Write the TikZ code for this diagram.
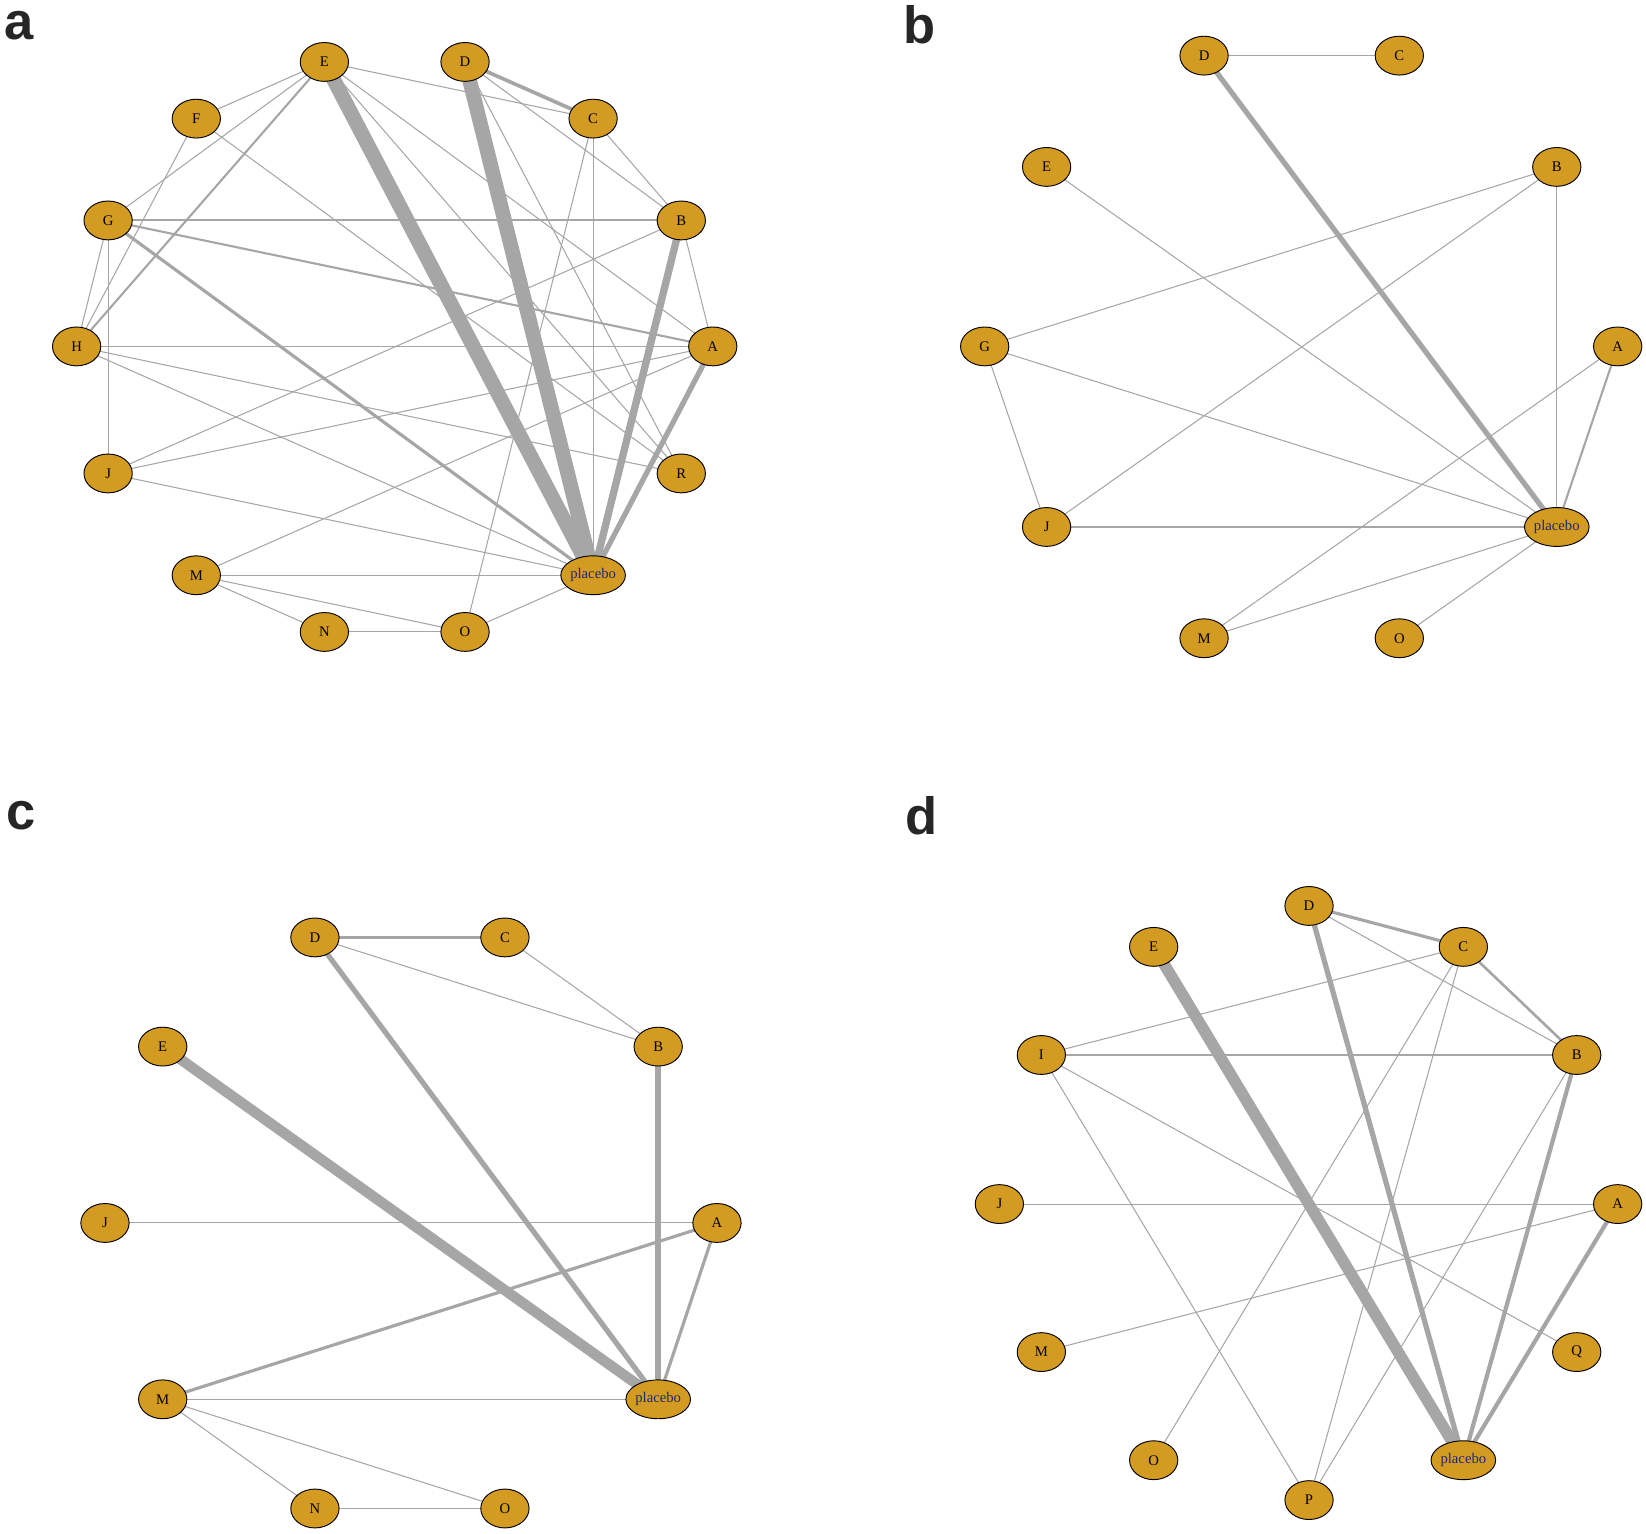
\documentclass[tikz,border=0pt]{standalone}
\usepackage{fontspec}
\usetikzlibrary{shapes.geometric}
\setmainfont{Liberation Serif}
\newfontfamily\panelfont{Liberation Sans}
\begin{document}
\begin{tikzpicture}[x=1pt,y=-1pt,
  nd/.style={ellipse,draw=black,line width=0.9pt,fill=nodegold,minimum width=46pt,minimum height=37pt,inner sep=0pt,font=\fontsize{14}{14}\selectfont},
  pl/.style={nd,font=\fontsize{14}{14}\selectfont\color{navy}},
  ed/.style={draw=edgegray,line width=#1},ed/.default=1pt,
  lab/.style={font=\panelfont\bfseries\fontsize{50}{50}\selectfont,text=black!85}]
\definecolor{nodegold}{HTML}{D49B22}
\definecolor{edgegray}{HTML}{A6A6A6}
\definecolor{navy}{HTML}{1F2A6B}
\useasboundingbox (0,0) rectangle (1568,1461);
\node[lab] (la) at (18,24) {a};
\node[lab] (lb) at (876,24) {b};
\node[lab] (lc) at (20,777) {c};
\node[lab] (ld) at (878,777) {d};
% panel a
\path
 (309,59) coordinate (aE) (443,59) coordinate (aD) (565,113) coordinate (aC)
 (187,113) coordinate (aF) (103,210) coordinate (aG) (649,210) coordinate (aB)
 (73,330) coordinate (aH) (679,330) coordinate (aA) (103,451) coordinate (aJ)
 (649,451) coordinate (aR) (187,548) coordinate (aM) (565,548) coordinate (aP)
 (309,602) coordinate (aN) (443,602) coordinate (aO);
\draw[ed=14pt] (aE)--(aP); \draw[ed=14pt] (aD)--(aP);
\draw[ed=7pt] (aB)--(aP); \draw[ed=5pt] (aA)--(aP);
\draw[ed=3pt] (aG)--(aP); \draw[ed=3.5pt] (aD)--(aC);
\draw[ed=2pt] (aG)--(aB); \draw[ed=2pt] (aG)--(aA); \draw[ed=2pt] (aE)--(aH);
\foreach \u/\v in {aE/aF,aE/aG,aE/aC,aE/aA,aE/aR,aD/aB,aD/aR,aC/aB,aC/aP,aC/aO,aB/aA,aB/aJ,aF/aH,aF/aR,aG/aH,aG/aJ,aH/aA,aH/aR,aH/aP,aJ/aA,aJ/aP,aM/aA,aM/aP,aM/aN,aM/aO,aN/aO,aO/aP}
  \draw[ed] (\u)--(\v);
\foreach \c/\t in {aE/E,aD/D,aC/C,aF/F,aG/G,aB/B,aH/H,aA/A,aJ/J,aR/R,aM/M,aN/N,aO/O}
  \node[nd] (n\c) at (\c) {\t};
\node[pl] (naP) at (aP) {placebo};
% panel b
\path (1147,53) coordinate (bD) (1333,53) coordinate (bC) (997,159) coordinate (bE)
 (1483,159) coordinate (bB) (938,330) coordinate (bG) (1541,330) coordinate (bA)
 (997,502) coordinate (bJ) (1483,502) coordinate (bP) (1147,608) coordinate (bM)
 (1333,608) coordinate (bO);
\draw[ed=5pt] (bD)--(bP); \draw[ed=2pt] (bA)--(bP);
\foreach \u/\v in {bD/bC,bE/bP,bG/bB,bG/bP,bG/bJ,bJ/bB,bJ/bP,bB/bP,bA/bM,bM/bP,bO/bP}
  \draw[ed] (\u)--(\v);
\foreach \c/\t in {bD/D,bC/C,bE/E,bB/B,bG/G,bA/A,bJ/J,bM/M,bO/O}
  \node[nd] (n\c) at (\c) {\t};
\node[pl] (nbP) at (bP) {placebo};
% panel c
\path (300,893) coordinate (cD) (481,893) coordinate (cC) (155,997) coordinate (cE)
 (627,997) coordinate (cB) (100,1165) coordinate (cJ) (683,1165) coordinate (cA)
 (155,1333) coordinate (cM) (627,1333) coordinate (cP) (300,1437) coordinate (cN)
 (481,1437) coordinate (cO);
\draw[ed=3pt] (cD)--(cC); \draw[ed=5pt] (cD)--(cP); \draw[ed=10pt] (cE)--(cP);
\draw[ed=6pt] (cB)--(cP); \draw[ed=3pt] (cA)--(cP); \draw[ed=3pt] (cA)--(cM);
\foreach \u/\v in {cD/cB,cC/cB,cJ/cA,cM/cP,cM/cN,cM/cO,cN/cO}
  \draw[ed] (\u)--(\v);
\foreach \c/\t in {cD/D,cC/C,cE/E,cB/B,cJ/J,cA/A,cM/M,cN/N,cO/O}
  \node[nd] (n\c) at (\c) {\t};
\node[pl] (ncP) at (cP) {placebo};
% panel d
\path (1247,863) coordinate (dD) (1394,902) coordinate (dC) (1099,902) coordinate (dE)
 (992,1005) coordinate (dI) (1502,1005) coordinate (dB) (952,1147) coordinate (dJ)
 (1541,1147) coordinate (dA) (992,1288) coordinate (dM) (1502,1288) coordinate (dQ)
 (1099,1391) coordinate (dO) (1394,1391) coordinate (dP) (1247,1429) coordinate (dPP);
\draw[ed=3pt] (dD)--(dC); \draw[ed=2.5pt] (dC)--(dB); \draw[ed=11pt] (dE)--(dP);
\draw[ed=5pt] (dD)--(dP); \draw[ed=4pt] (dB)--(dP); \draw[ed=4pt] (dA)--(dP);
\foreach \u/\v in {dD/dB,dC/dI,dC/dO,dC/dPP,dI/dB,dI/dQ,dI/dPP,dJ/dA,dM/dA,dB/dPP}
  \draw[ed] (\u)--(\v);
\foreach \c/\t in {dD/D,dC/C,dE/E,dI/I,dB/B,dJ/J,dA/A,dM/M,dQ/Q,dO/O,dPP/P}
  \node[nd] (n\c) at (\c) {\t};
\node[pl] (ndP) at (dP) {placebo};
\end{tikzpicture}
\end{document}
